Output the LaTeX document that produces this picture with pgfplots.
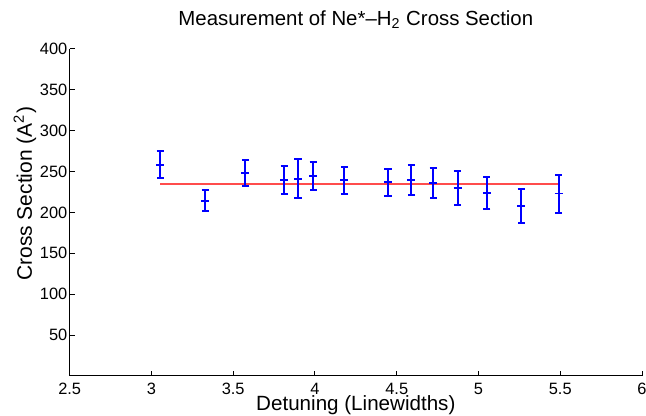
\documentclass[border=0pt]{standalone}
\usepackage{pgfplots}
\pgfplotsset{compat=1.18}
\usepackage{fontspec}
\setmainfont{Liberation Sans}
\definecolor{mblue}{rgb}{0,0,1}
\definecolor{mred}{rgb}{1,0.3,0.3}

\begin{document}
\begin{tikzpicture}
\begin{axis}[
  scale only axis,
  width=286.2pt, height=163.5pt,
  xmin=2.5, xmax=6, ymin=0, ymax=400,
  xtick={2.5,3,...,6},
  ytick={50,100,...,400},
  axis x line=bottom, axis y line=left,
  axis line style={-, black, line width=0.5pt},
  tick align=inside,
  major tick length=2.5pt,
  tick style={black, line width=0.5pt},
  /pgf/number format/assume math mode=true,
  ticklabel style={font=\fontsize{8.2}{10}\selectfont},
  xticklabel style={inner sep=0pt, yshift=-3.3pt},
  yticklabel style={inner sep=1pt},
  every axis title shift=0pt,
  title={Measurement of Ne*--H\textsubscript{2} Cross Section},
  title style={at={(axis description cs:0.5,1.0725)}, anchor=base, font=\fontsize{10.2}{12}\selectfont},
  xlabel={Detuning (Linewidths)},
  xlabel style={at={(axis description cs:0.5,-0.107)}, anchor=base, inner sep=0pt, font=\fontsize{10.3}{12}\selectfont},
  ylabel={Cross Section (A\textsuperscript{2})},
  ylabel style={at={(axis description cs:-0.066,0.557)}, anchor=base, font=\fontsize{10.5}{12}\selectfont},
]
% fitted mean
\addplot[mred, line width=0.8pt] coordinates {(3.053,235) (5.49,235)};
% measurements with y errors
\addplot[mblue, only marks, mark=+, mark size=2pt, line width=0.9pt,
  error bars/.cd, y dir=both, y explicit,
  error bar style={mblue, line width=1pt},
  error mark options={mblue, rotate=90, mark size=1.8pt, line width=1pt}]
  table[x=x, y=y, y error=e] {
x      y      e
3.053  258.5  16.6
3.329  214.5  13.0
3.575  248.2  16.0
3.812  239.7  17.0
3.896  241.4  23.6
3.990  245.0  17.0
4.180  239.3  16.7
4.447  236.9  16.3
4.590  239.3  18.5
4.723  236.5  18.3
4.872  229.9  20.3
5.051  223.8  19.2
5.262  207.9  20.7
5.490  223.1  23.2
};
\coordinate (bl) at (rel axis cs:0,0);
\coordinate (tr) at (rel axis cs:1,1);
\end{axis}
\pgfresetboundingbox
\path[use as bounding box] ([shift={(-34.85pt,-20pt)}]bl) rectangle ([shift={(2pt,24.5pt)}]tr);
\end{tikzpicture}
\end{document}
